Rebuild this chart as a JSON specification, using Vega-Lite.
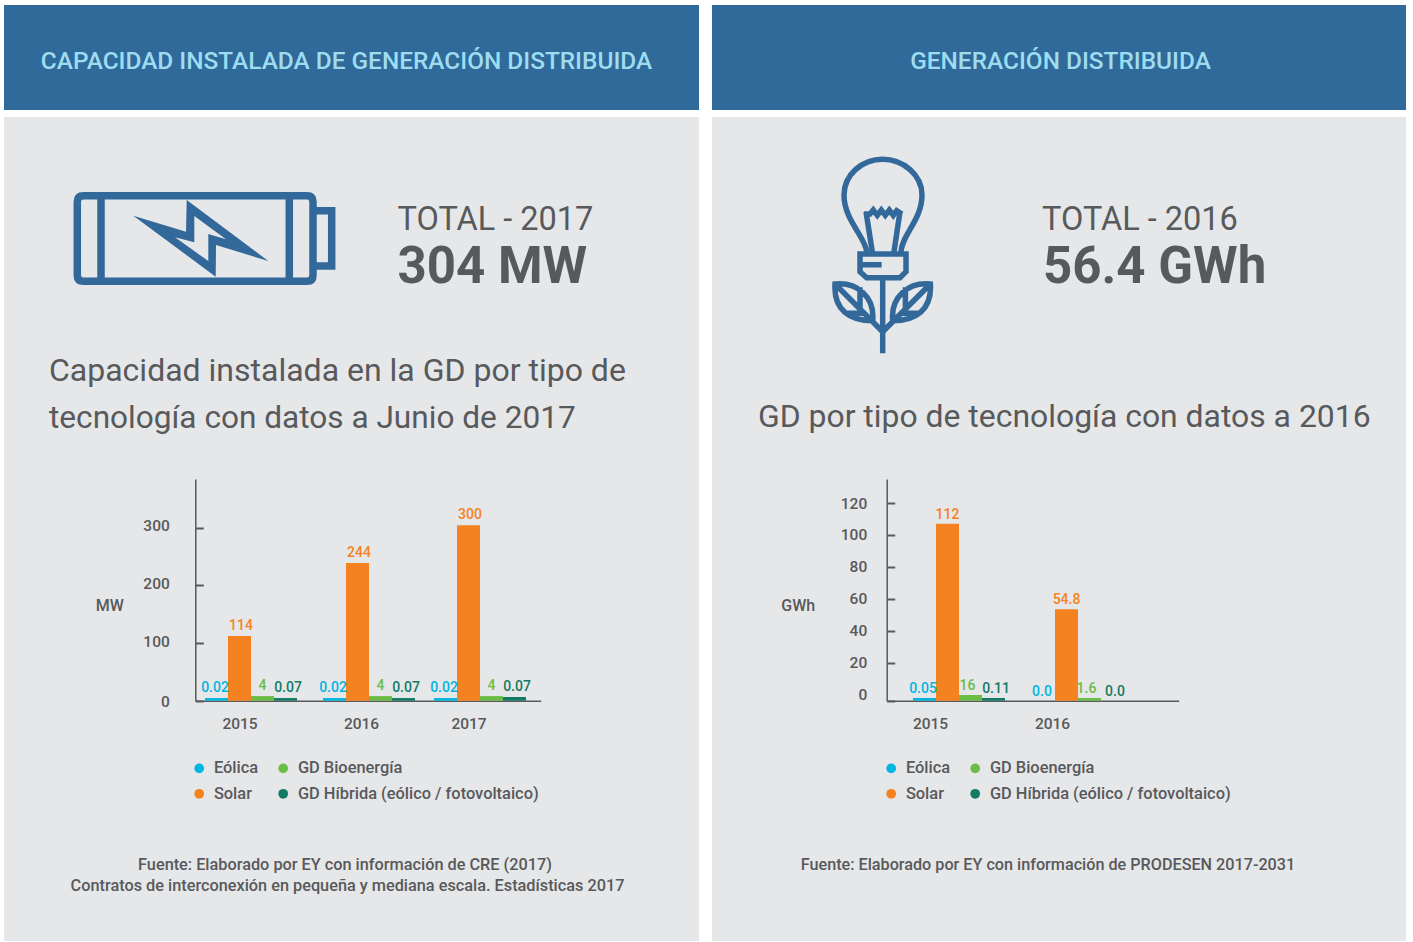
{
"$schema":"https://vega.github.io/schema/vega-lite/v6.json",
"background":"#ffffff",
"padding":{"left":4,"top":5,"right":0,"bottom":0},
"autosize":{"type":"pad"},
"config":{
"font":"Roboto",
"view":{"stroke":null},
"axis":{"grid":false,"domainColor":"#58595b","tickColor":"#58595b","domainWidth":1.5,"tickWidth":2,"labelColor":"#58595b","titleColor":"#58595b","labelFont":"Roboto","titleFont":"Roboto","labelFontSize":15.5,"titleFontSize":16,"titleFontWeight":500,"labelFontWeight":500},
"legend":{"labelFont":"Roboto","labelColor":"#58595b","labelFontSize":16.4,"labelFontWeight":500,"labelLimit":400,"symbolType":"circle","symbolSize":95,"symbolStrokeWidth":0,"title":null,"rowPadding":8.6,"labelOffset":6.5}
},
"datasets":{
"capacidad":[
{"year":2015,"series":"Eólica","value":4.6,"label":"0.02"},
{"year":2015,"series":"Solar","value":112,"label":"114"},
{"year":2015,"series":"GD Bioenergía","value":8,"label":"4"},
{"year":2015,"series":"GD Híbrida (eólico / fotovoltaico)","value":4.6,"label":"0.07"},
{"year":2016,"series":"Eólica","value":4.6,"label":"0.02"},
{"year":2016,"series":"Solar","value":238.6,"label":"244"},
{"year":2016,"series":"GD Bioenergía","value":8,"label":"4"},
{"year":2016,"series":"GD Híbrida (eólico / fotovoltaico)","value":4.6,"label":"0.07"},
{"year":2017,"series":"Eólica","value":4.6,"label":"0.02"},
{"year":2017,"series":"Solar","value":304.5,"label":"300"},
{"year":2017,"series":"GD Bioenergía","value":8,"label":"4"},
{"year":2017,"series":"GD Híbrida (eólico / fotovoltaico)","value":6.4,"label":"0.07"}
],
"generacion":[
{"year":2015,"series":"Eólica","value":1.4,"label":"0.05"},
{"year":2015,"series":"Solar","value":107,"label":"112"},
{"year":2015,"series":"GD Bioenergía","value":3,"label":"16"},
{"year":2015,"series":"GD Híbrida (eólico / fotovoltaico)","value":1.4,"label":"0.11"},
{"year":2016,"series":"Eólica","value":0,"label":"0.0"},
{"year":2016,"series":"Solar","value":53.4,"label":"54.8"},
{"year":2016,"series":"GD Bioenergía","value":1.4,"label":"1.6"},
{"year":2016,"series":"GD Híbrida (eólico / fotovoltaico)","value":0,"label":"0.0"}
]
},
"spacing":13,
"resolve":{"scale":{"color":"independent"},"legend":{"color":"independent"}},
"hconcat":[
{"spacing":7,"resolve":{"scale":{"color":"independent"},"legend":{"color":"independent"}},"vconcat":[
{"width":695,"height":105,"view":{"fill":"#2f6a9a","stroke":null},
"data":{"values":[{"t":"CAPACIDAD INSTALADA DE GENERACIÓN DISTRIBUIDA"}]},
"mark":{"type":"text","color":"#9edcf0","fontSize":24.4,"fontWeight":500,"dx":-5,"dy":4,"baseline":"middle"},
"encoding":{"text":{"field":"t"}}},
{"width":695,"height":824,"view":{"fill":"#e6e7e9","stroke":null},
"layer":[
{"data":{"values":[{"k":"bateria"}]},"mark":{"type":"point","shape":"M-268,-333.3 L-44.5,-333.3 Q-38.5,-333.3 -38.5,-327.3 L-38.5,-253.7 Q-38.5,-247.7 -44.5,-247.7 L-268,-247.7 Q-274.2,-247.7 -274.2,-253.7 L-274.2,-327.3 Q-274.2,-333.3 -268,-333.3 Z M-250.5,-333.3 L-250.5,-247.7 M-62.2,-333.3 L-62.2,-247.7 M-38.5,-318.3 L-19.8,-318.3 L-19.8,-263 L-38.5,-263","size":4,"filled":false,"stroke":"#33699a","strokeWidth":7.5,"opacity":1}},
{"data":{"values":[{"k":"rayo"}]},"mark":{"type":"point","shape":"M-218.2,-313.3 L-165.5,-297.3 L-164.8,-329 L-83.2,-268 L-135.5,-284 L-135.8,-252.3 Z M-176.5,-291.7 L-143.2,-268 L-143.2,-295 L-125.5,-289.7 L-157.2,-313 L-157.2,-286.7 Z","size":4,"filled":true,"fill":"#33699a","opacity":1}},
{"data":{"values":[{"t":"TOTAL - 2017"}]},"mark":{"type":"text","align":"left","baseline":"middle","dx":46,"dy":-309,"fontSize":32.5,"color":"#58595b"},"encoding":{"text":{"field":"t"}}},
{"data":{"values":[{"t":"304 MW"}]},"mark":{"type":"text","align":"left","baseline":"middle","dx":46,"dy":-261,"fontSize":51,"fontWeight":"bold","color":"#58595b"},"encoding":{"text":{"field":"t"}}},
{"data":{"values":[{"t":"Capacidad instalada en la GD por tipo de"}]},"mark":{"type":"text","align":"left","baseline":"middle","dx":-302.5,"dy":-158,"fontSize":32,"color":"#58595b"},"encoding":{"text":{"field":"t"}}},
{"data":{"values":[{"t":"tecnología con datos a Junio de 2017"}]},"mark":{"type":"text","align":"left","baseline":"middle","dx":-302.5,"dy":-110,"fontSize":31.6,"color":"#58595b"},"encoding":{"text":{"field":"t"}}},
{"data":{"values":[{"t":"Fuente: Elaborado por EY con información de CRE (2017)"}]},"mark":{"type":"text","baseline":"middle","dx":-6.5,"dy":336,"fontSize":16.3,"fontWeight":500,"color":"#58595b"},"encoding":{"text":{"field":"t"}}},
{"data":{"values":[{"t":"Contratos de interconexión en pequeña y mediana escala. Estadísticas 2017"}]},"mark":{"type":"text","baseline":"middle","dx":-4,"dy":357,"fontSize":16.3,"fontWeight":500,"color":"#58595b"},"encoding":{"text":{"field":"t"}}},
{"data":{"name":"capacidad"},"mark":{"type":"bar","width":23,"xOffset":{"expr":"datum.series=='Eólica'?-34.5:datum.series=='Solar'?-11.5:datum.series=='GD Bioenergía'?11.5:34.5"}},
"encoding":{
"x":{"field":"year","type":"quantitative","scale":{"domain":[2014,2015,2016,2017,2018],"range":[191.3,247,365,476,536.7],"nice":false,"zero":false},"axis":{"title":null,"values":[2015,2016,2017],"format":"d","offset":-240.3,"ticks":false,"labelPadding":16,"labelBaseline":"top","labelFlush":false,"labelOverlap":false,"labelOffset":{"condition":{"test":"datum.value==2016","value":-8},"value":-11.5}}},
"y":{"field":"value","type":"quantitative","stack":null,"scale":{"domain":[0,384.5],"range":[583.7,362],"nice":false},"axis":{"title":"MW","titleAngle":0,"titleX":-86,"titleY":488,"titleAlign":"center","titleBaseline":"middle","values":[0,100,200,300],"offset":-191.3,"tickSize":-8,"labelPadding":34,"labelFlush":false,"labelOverlap":false,"labelOffset":{"condition":{"test":"datum.value==0","value":1},"value":-2}}},
"color":{"field":"series","type":"nominal","scale":{"domain":["Eólica","Solar","GD Bioenergía","GD Híbrida (eólico / fotovoltaico)"],"range":["#00b5e2","#f58220","#6cbd45","#147a66"]},"legend":{"orient":"none","legendX":187,"legendY":643,"columns":2,"columnPadding":16}}
}},
{"data":{"name":"capacidad"},"mark":{"type":"text","baseline":"bottom","dy":-3,"fontSize":14,"fontWeight":500,"xOffset":{"expr":"datum.series=='Eólica'?-36:datum.series=='Solar'?-10:datum.series=='GD Bioenergía'?11.5:37"}},
"encoding":{
"x":{"field":"year","type":"quantitative"},
"y":{"field":"value","type":"quantitative","stack":null},
"color":{"field":"series","type":"nominal"},
"text":{"field":"label"}
}}
]}
]},
{"spacing":7,"resolve":{"scale":{"color":"independent"},"legend":{"color":"independent"}},"vconcat":[
{"width":694,"height":105,"view":{"fill":"#2f6a9a","stroke":null},
"data":{"values":[{"t":"GENERACIÓN DISTRIBUIDA"}]},
"mark":{"type":"text","color":"#9edcf0","fontSize":24.4,"fontWeight":500,"dx":1.5,"dy":4,"baseline":"middle"},
"encoding":{"text":{"field":"t"}}},
{"width":694,"height":824,"view":{"fill":"#e6e7e9","stroke":null},
"layer":[
{"data":{"values":[{"k":"foco"}]},"mark":{"type":"point","shape":"M-192.3,-277.3 C-193.7,-292.3 -215,-309 -215,-334 C-215,-354 -197.3,-369.7 -176.3,-369.7 C-155.7,-369.7 -137,-354 -137,-334 C-137,-309 -157.3,-294 -158,-277.3 M-193,-317.3 L-186.7,-277.3 M-159,-317.3 L-165,-277.3 M-195,-315 L-189,-315 L-185.7,-319 L-181.7,-313.7 L-177.7,-319 L-173.7,-313.7 L-169.7,-319 L-165.7,-313.7 L-162.3,-318.3 L-157,-315 M-199,-275 L-153,-275 L-153,-257.3 L-159,-251.3 L-192.3,-251.3 L-199,-257.3 Z M-199,-264.3 L-177.3,-264.3 M-176.3,-251 L-176.3,-175.7 M-224,-245 C-202.3,-247.3 -184,-232.3 -186.3,-208.3 C-209,-208.3 -225.7,-219 -224,-245 Z M-224,-245 L-176.3,-197.3 M-199,-241.7 L-199,-219.7 M-214,-215.7 L-194,-215.7 M-128.6,-245 C-150.3,-247.3 -168.6,-232.3 -166.3,-208.3 C-143.6,-208.3 -126.9,-219 -128.6,-245 Z M-128.6,-245 L-176.3,-197.3 M-153.6,-241.7 L-153.6,-219.7 M-138.6,-215.7 L-158.6,-215.7","size":4,"filled":false,"stroke":"#33699a","strokeWidth":5.5,"opacity":1}},
{"data":{"values":[{"t":"TOTAL - 2016"}]},"mark":{"type":"text","align":"left","baseline":"middle","dx":-17,"dy":-309,"fontSize":32.5,"color":"#58595b"},"encoding":{"text":{"field":"t"}}},
{"data":{"values":[{"t":"56.4 GWh"}]},"mark":{"type":"text","align":"left","baseline":"middle","dx":-16,"dy":-261,"fontSize":51,"fontWeight":"bold","color":"#58595b"},"encoding":{"text":{"field":"t"}}},
{"data":{"values":[{"t":"GD por tipo de tecnología con datos a 2016"}]},"mark":{"type":"text","align":"left","baseline":"middle","dx":-301,"dy":-112,"fontSize":31.9,"color":"#58595b"},"encoding":{"text":{"field":"t"}}},
{"data":{"values":[{"t":"Fuente: Elaborado por EY con información de PRODESEN 2017-2031"}]},"mark":{"type":"text","baseline":"middle","dx":-11,"dy":336,"fontSize":16.2,"fontWeight":500,"color":"#58595b"},"encoding":{"text":{"field":"t"}}},
{"data":{"name":"generacion"},"mark":{"type":"bar","width":23,"xOffset":{"expr":"datum.series=='Eólica'?-34.5:datum.series=='Solar'?-11.5:datum.series=='GD Bioenergía'?11.5:34.5"}},
"encoding":{
"x":{"field":"year","type":"quantitative","scale":{"domain":[2014,2015,2016,2017],"range":[174.7,247,366,466.7],"nice":false,"zero":false},"axis":{"title":null,"values":[2015,2016],"format":"d","offset":-240.3,"ticks":false,"labelPadding":16,"labelBaseline":"top","labelFlush":false,"labelOverlap":false,"labelOffset":{"condition":{"test":"datum.value==2016","value":-26},"value":-29}}},
"y":{"field":"value","type":"quantitative","stack":null,"scale":{"domain":[0,20,120,135],"range":[583.7,545.5,386,362],"nice":false},"axis":{"title":"GWh","titleAngle":0,"titleX":-89,"titleY":488,"titleAlign":"center","titleBaseline":"middle","values":[0,20,40,60,80,100,120],"offset":-174.7,"tickSize":-8,"labelPadding":28,"labelFlush":false,"labelOverlap":false,"labelOffset":{"condition":{"test":"datum.value==0","value":-6},"value":0}}},
"color":{"field":"series","type":"nominal","scale":{"domain":["Eólica","Solar","GD Bioenergía","GD Híbrida (eólico / fotovoltaico)"],"range":["#00b5e2","#f58220","#6cbd45","#147a66"]},"legend":{"orient":"none","legendX":171,"legendY":643,"columns":2,"columnPadding":16}}
}},
{"data":{"name":"generacion"},"mark":{"type":"text","baseline":"bottom","dy":-2,"fontSize":14,"fontWeight":500,"xOffset":{"expr":"datum.series=='Eólica'?-36:datum.series=='Solar'?-11.5:datum.series=='GD Bioenergía'?8.5:37"}},
"encoding":{
"x":{"field":"year","type":"quantitative"},
"y":{"field":"value","type":"quantitative","stack":null},
"color":{"field":"series","type":"nominal"},
"text":{"field":"label"}
}}
]}
]}
]
}
